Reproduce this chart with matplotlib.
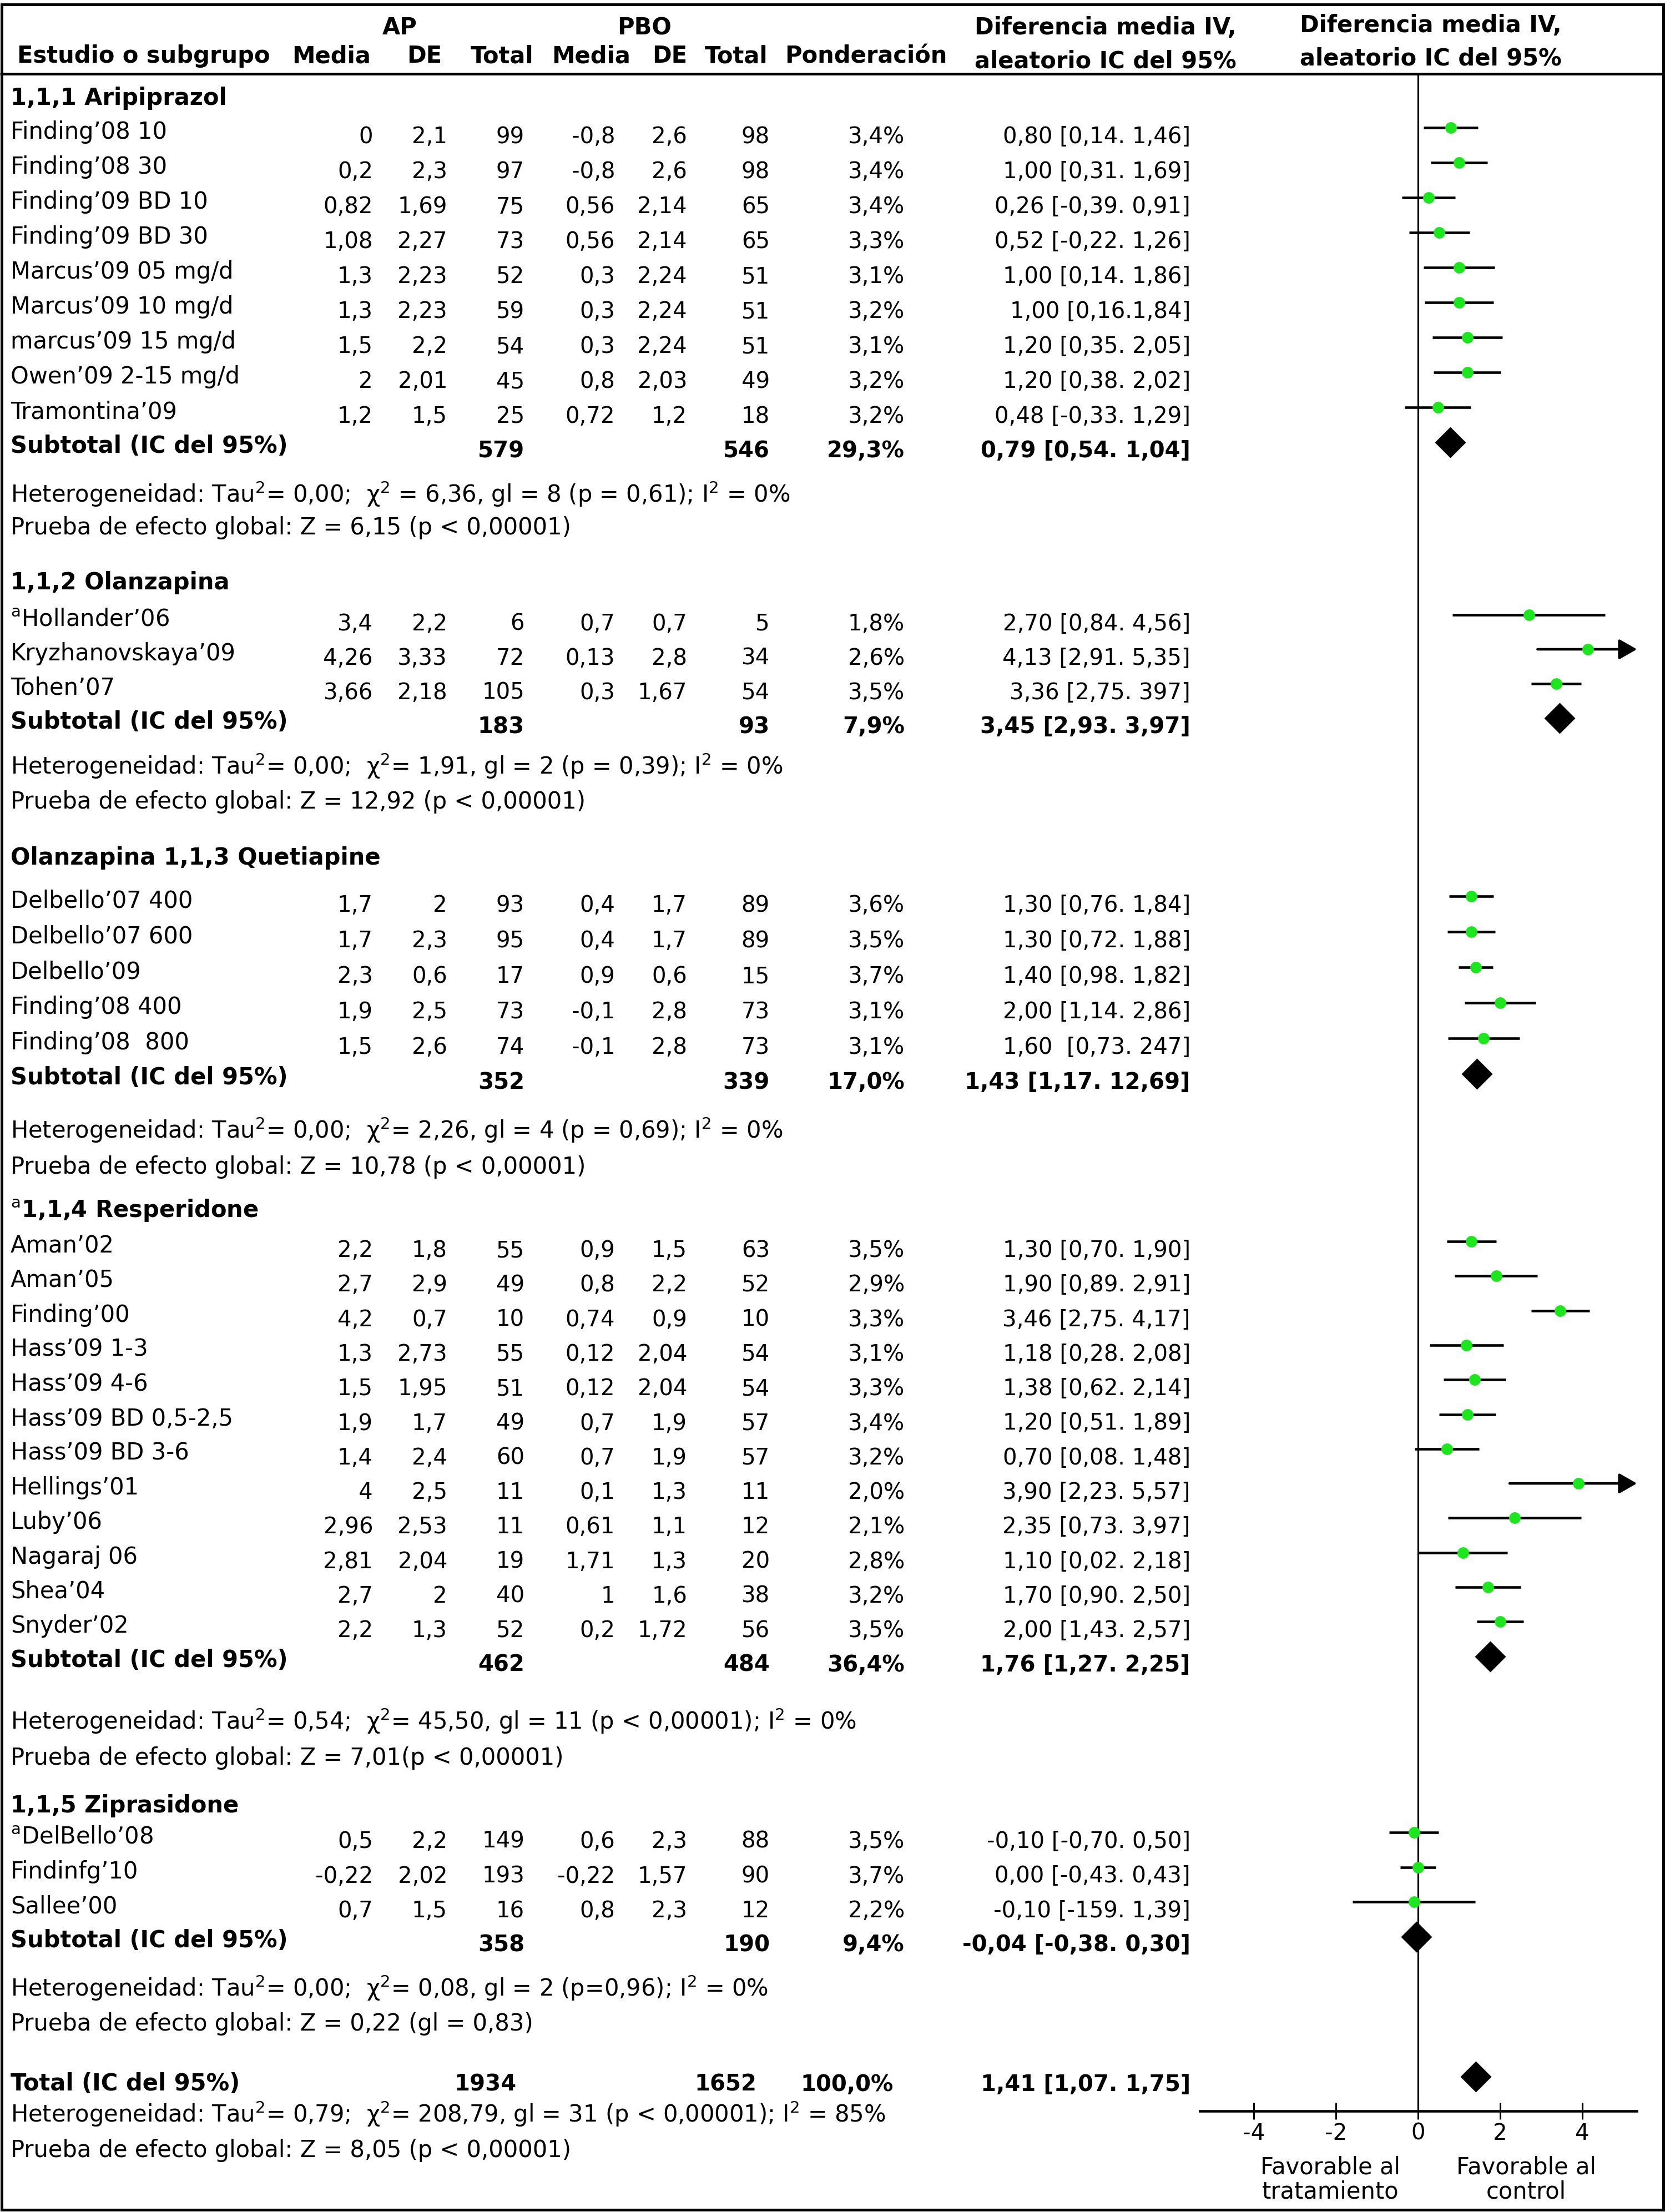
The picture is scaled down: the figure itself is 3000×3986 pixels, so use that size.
import matplotlib
matplotlib.use('Agg')
import matplotlib.pyplot as plt
from matplotlib.patches import Rectangle

plt.rcParams['font.family'] = ['DejaVu Sans']
plt.rcParams['axes.unicode_minus'] = False
plt.rcParams['mathtext.fontset'] = 'dejavusans'

# ---------------- data ----------------
section_title = ['1,1,1 Aripiprazol', '1,1,2 Olanzapina', 'Olanzapina 1,1,3 Quetiapine',
                 '$^{\\mathrm{a}}$1,1,4 Resperidone', '1,1,5 Ziprasidone']
section_size = [9, 3, 5, 12, 3]

study = ['Finding’08 10', 'Finding’08 30', 'Finding’09 BD 10', 'Finding’09 BD 30',
         'Marcus’09 05 mg/d', 'Marcus’09 10 mg/d', 'marcus’09 15 mg/d', 'Owen’09 2-15 mg/d',
         'Tramontina’09',
         '$^{\\mathrm{a}}$Hollander’06', 'Kryzhanovskaya’09', 'Tohen’07',
         'Delbello’07 400', 'Delbello’07 600', 'Delbello’09', 'Finding’08 400', 'Finding’08  800',
         'Aman’02', 'Aman’05', 'Finding’00', 'Hass’09 1-3', 'Hass’09 4-6', 'Hass’09 BD 0,5-2,5',
         'Hass’09 BD 3-6', 'Hellings’01', 'Luby’06', 'Nagaraj 06', 'Shea’04', 'Snyder’02',
         '$^{\\mathrm{a}}$DelBello’08', 'Findinfg’10', 'Sallee’00']
ap_mean = ['0', '0,2', '0,82', '1,08', '1,3', '1,3', '1,5', '2', '1,2',
           '3,4', '4,26', '3,66',
           '1,7', '1,7', '2,3', '1,9', '1,5',
           '2,2', '2,7', '4,2', '1,3', '1,5', '1,9', '1,4', '4', '2,96', '2,81', '2,7', '2,2',
           '0,5', '-0,22', '0,7']
ap_sd = ['2,1', '2,3', '1,69', '2,27', '2,23', '2,23', '2,2', '2,01', '1,5',
         '2,2', '3,33', '2,18',
         '2', '2,3', '0,6', '2,5', '2,6',
         '1,8', '2,9', '0,7', '2,73', '1,95', '1,7', '2,4', '2,5', '2,53', '2,04', '2', '1,3',
         '2,2', '2,02', '1,5']
ap_n = ['99', '97', '75', '73', '52', '59', '54', '45', '25',
        '6', '72', '105',
        '93', '95', '17', '73', '74',
        '55', '49', '10', '55', '51', '49', '60', '11', '11', '19', '40', '52',
        '149', '193', '16']
pbo_mean = ['-0,8', '-0,8', '0,56', '0,56', '0,3', '0,3', '0,3', '0,8', '0,72',
            '0,7', '0,13', '0,3',
            '0,4', '0,4', '0,9', '-0,1', '-0,1',
            '0,9', '0,8', '0,74', '0,12', '0,12', '0,7', '0,7', '0,1', '0,61', '1,71', '1', '0,2',
            '0,6', '-0,22', '0,8']
pbo_sd = ['2,6', '2,6', '2,14', '2,14', '2,24', '2,24', '2,24', '2,03', '1,2',
          '0,7', '2,8', '1,67',
          '1,7', '1,7', '0,6', '2,8', '2,8',
          '1,5', '2,2', '0,9', '2,04', '2,04', '1,9', '1,9', '1,3', '1,1', '1,3', '1,6', '1,72',
          '2,3', '1,57', '2,3']
pbo_n = ['98', '98', '65', '65', '51', '51', '51', '49', '18',
         '5', '34', '54',
         '89', '89', '15', '73', '73',
         '63', '52', '10', '54', '54', '57', '57', '11', '12', '20', '38', '56',
         '88', '90', '12']
weight = ['3,4%', '3,4%', '3,4%', '3,3%', '3,1%', '3,2%', '3,1%', '3,2%', '3,2%',
          '1,8%', '2,6%', '3,5%',
          '3,6%', '3,5%', '3,7%', '3,1%', '3,1%',
          '3,5%', '2,9%', '3,3%', '3,1%', '3,3%', '3,4%', '3,2%', '2,0%', '2,1%', '2,8%', '3,2%', '3,5%',
          '3,5%', '3,7%', '2,2%']
ci_text = ['0,80 [0,14. 1,46]', '1,00 [0,31. 1,69]', '0,26 [-0,39. 0,91]', '0,52 [-0,22. 1,26]',
           '1,00 [0,14. 1,86]', '1,00 [0,16.1,84]', '1,20 [0,35. 2,05]', '1,20 [0,38. 2,02]',
           '0,48 [-0,33. 1,29]',
           '2,70 [0,84. 4,56]', '4,13 [2,91. 5,35]', '3,36 [2,75. 397]',
           '1,30 [0,76. 1,84]', '1,30 [0,72. 1,88]', '1,40 [0,98. 1,82]', '2,00 [1,14. 2,86]',
           '1,60  [0,73. 247]',
           '1,30 [0,70. 1,90]', '1,90 [0,89. 2,91]', '3,46 [2,75. 4,17]', '1,18 [0,28. 2,08]',
           '1,38 [0,62. 2,14]', '1,20 [0,51. 1,89]', '0,70 [0,08. 1,48]', '3,90 [2,23. 5,57]',
           '2,35 [0,73. 3,97]', '1,10 [0,02. 2,18]', '1,70 [0,90. 2,50]', '2,00 [1,43. 2,57]',
           '-0,10 [-0,70. 0,50]', '0,00 [-0,43. 0,43]', '-0,10 [-159. 1,39]']
md = [0.80, 1.00, 0.26, 0.52, 1.00, 1.00, 1.20, 1.20, 0.48,
      2.70, 4.13, 3.36,
      1.30, 1.30, 1.40, 2.00, 1.60,
      1.30, 1.90, 3.46, 1.18, 1.38, 1.20, 0.70, 3.90, 2.35, 1.10, 1.70, 2.00,
      -0.10, 0.00, -0.10]
ci_lo = [0.14, 0.31, -0.39, -0.22, 0.14, 0.16, 0.35, 0.38, -0.33,
         0.84, 2.91, 2.75,
         0.76, 0.72, 0.98, 1.14, 0.73,
         0.70, 0.89, 2.75, 0.28, 0.62, 0.51, -0.08, 2.23, 0.73, 0.02, 0.90, 1.43,
         -0.70, -0.43, -1.59]
ci_hi = [1.46, 1.69, 0.91, 1.26, 1.86, 1.84, 2.05, 2.02, 1.29,
         4.56, 5.35, 3.97,
         1.84, 1.88, 1.82, 2.86, 2.47,
         1.90, 2.91, 4.17, 2.08, 2.14, 1.89, 1.48, 5.57, 3.97, 2.18, 2.50, 2.57,
         0.50, 0.43, 1.39]

sub_ap_n = ['579', '183', '352', '462', '358']
sub_pbo_n = ['546', '93', '339', '484', '190']
sub_weight = ['29,3%', '7,9%', '17,0%', '36,4%', '9,4%']
sub_md = [0.79, 3.45, 1.43, 1.76, -0.04]
sub_ci_text = ['0,79 [0,54. 1,04]', '3,45 [2,93. 3,97]', '1,43 [1,17. 12,69]',
               '1,76 [1,27. 2,25]', '-0,04 [-0,38. 0,30]']
het_text = ['Heterogeneidad: Tau$^2$= 0,00;  χ$^2$ = 6,36, gl = 8 (p = 0,61); I$^2$ = 0%',
            'Heterogeneidad: Tau$^2$= 0,00;  χ$^2$= 1,91, gl = 2 (p = 0,39); I$^2$ = 0%',
            'Heterogeneidad: Tau$^2$= 0,00;  χ$^2$= 2,26, gl = 4 (p = 0,69); I$^2$ = 0%',
            'Heterogeneidad: Tau$^2$= 0,54;  χ$^2$= 45,50, gl = 11 (p < 0,00001); I$^2$ = 0%',
            'Heterogeneidad: Tau$^2$= 0,00;  χ$^2$= 0,08, gl = 2 (p=0,96); I$^2$ = 0%']
test_text = ['Prueba de efecto global: Z = 6,15 (p < 0,00001)',
             'Prueba de efecto global: Z = 12,92 (p < 0,00001)',
             'Prueba de efecto global: Z = 10,78 (p < 0,00001)',
             'Prueba de efecto global: Z = 7,01(p < 0,00001)',
             'Prueba de efecto global: Z = 0,22 (gl = 0,83)']

total_ap_n = '1934'
total_pbo_n = '1652'
total_weight = '100,0%'
total_md = 1.41
total_ci_text = '1,41 [1,07. 1,75]'
total_het = 'Heterogeneidad: Tau$^2$= 0,79;  χ$^2$= 208,79, gl = 31 (p < 0,00001); I$^2$ = 85%'
total_test = 'Prueba de efecto global: Z = 8,05 (p < 0,00001)'

axis_ticks = [-4, -2, 0, 2, 4]

# ---------------- layout (pixels) ----------------
W, H = 3000, 3986
HEADER_Y = [174, 1047, 1543, 2178, 3251]
FIRST_Y = [230, 1108, 1615, 2237, 3302]
STEP_Y = [63, 62, 64, 62.3, 62.5]
HET_Y = [890, 1380, 2036, 3101, 3582]
TEST_Y = [948, 1442, 2100, 3165, 3644]
TOTAL_Y, TOTAL_HET_Y, TOTAL_TEST_Y = 3750, 3809, 3872
AXIS_Y = 3804
LABEL_X = 19
COL_X = [672, 806, 945, 1108, 1238, 1387]
WEIGHT_X, CI_X = 1630, 2145
ZERO_PX, UNIT_PX = 2555, 74
PLOT_L, PLOT_R = 2162, 2975
ARROW_TIP = 5.33
FS = 30
FS_NUM = 29
GREEN = '#1ee61e'

fig = plt.figure(figsize=(W / 100, H / 100), dpi=100)
ax = fig.add_axes([0, 0, 1, 1])
ax.set_xlim(0, W)
ax.set_ylim(H, 0)
ax.axis('off')


def put(x, y, s, ha='left', bold=False, size=FS):
    ax.text(x, y, s, ha=ha, va='baseline', fontsize=size,
            fontweight='bold' if bold else 'normal')


# frame and header
ax.add_patch(Rectangle((3, 8), W - 6, H - 12, fill=False, lw=3.6, color='black'))
ax.hlines(133, 0, W, color='black', lw=3.4)
put(720, 62, 'AP', ha='center', bold=True)
put(1161, 62, 'PBO', ha='center', bold=True)
put(LABEL_X + 12, 113, 'Estudio o subgrupo', bold=True)
for cx, lab in zip([597, 765, 905, 1065, 1207, 1327, 1560],
                   ['Media', 'DE', 'Total', 'Media', 'DE', 'Total', 'Ponderación']):
    put(cx, 113, lab, ha='center', bold=True)
put(1992, 62, 'Diferencia media IV,', ha='center', bold=True)
put(1992, 122, 'aleatorio IC del 95%', ha='center', bold=True)
put(2578, 58, 'Diferencia media IV,', ha='center', bold=True)
put(2578, 117, 'aleatorio IC del 95%', ha='center', bold=True)

# forest axes
axf = fig.add_axes([PLOT_L / W, 0, (PLOT_R - PLOT_L) / W, 1])
axf.set_xlim((PLOT_L - ZERO_PX) / UNIT_PX, (PLOT_R - ZERO_PX) / UNIT_PX)
axf.set_ylim(H, 0)
axf.patch.set_alpha(0)
for side in ['left', 'right', 'top']:
    axf.spines[side].set_visible(False)
axf.spines['bottom'].set_position(('data', AXIS_Y))
axf.spines['bottom'].set_linewidth(3.3)
axf.spines['bottom'].set_bounds((2162 - ZERO_PX) / UNIT_PX, (2949 - ZERO_PX) / UNIT_PX)
axf.set_yticks([])
axf.set_xticks(axis_ticks)
axf.set_xticklabels([str(t) for t in axis_ticks])
axf.tick_params(axis='x', direction='inout', length=21.6, width=2.2, labelsize=29, pad=4)
axf.vlines(0, 133, AXIS_Y, color='black', lw=2.3)

# rows
i = 0
for s in range(len(section_title)):
    put(LABEL_X, HEADER_Y[s] + 15, section_title[s], bold=True)
    for k in range(section_size[s]):
        y = FIRST_Y[s] + k * STEP_Y[s]
        put(LABEL_X, y + 20, study[i])
        for cx, col in zip(COL_X, [ap_mean, ap_sd, ap_n, pbo_mean, pbo_sd, pbo_n]):
            put(cx, y + 28, col[i], ha='right', size=FS_NUM)
        put(WEIGHT_X, y + 28, weight[i], ha='right', size=FS_NUM)
        put(CI_X, y + 28, ci_text[i], ha='right', size=FS_NUM)
        if ci_hi[i] > ARROW_TIP:
            axf.annotate('', xy=(ARROW_TIP, y), xytext=(ci_lo[i], y),
                         arrowprops=dict(arrowstyle='-|>,head_length=0.65,head_width=0.37',
                                         mutation_scale=30, lw=3.3, color='black',
                                         shrinkA=0, shrinkB=0))
        else:
            axf.plot([ci_lo[i], ci_hi[i]], [y, y], color='black', lw=3.3, solid_capstyle='butt')
        axf.plot(md[i], y, 'o', color=GREEN, ms=15, mec='none', zorder=5)
        i += 1
    ys = FIRST_Y[s] + section_size[s] * STEP_Y[s]
    put(LABEL_X, ys + 19, 'Subtotal (IC del 95%)', bold=True)
    put(COL_X[2], ys + 27, sub_ap_n[s], ha='right', bold=True, size=FS_NUM)
    put(COL_X[5], ys + 27, sub_pbo_n[s], ha='right', bold=True, size=FS_NUM)
    put(WEIGHT_X, ys + 27, sub_weight[s], ha='right', bold=True, size=FS_NUM)
    put(CI_X, ys + 27, sub_ci_text[s], ha='right', bold=True, size=FS_NUM)
    axf.plot(sub_md[s], ys, 'D', color='black', ms=29, mec='none')
    put(LABEL_X, HET_Y[s] + 15, het_text[s])
    put(LABEL_X, TEST_Y[s] + 15, test_text[s])

# overall
put(LABEL_X, TOTAL_Y + 17, 'Total (IC del 95%)', bold=True)
put(931, TOTAL_Y + 18, total_ap_n, ha='right', bold=True, size=FS_NUM)
put(1363, TOTAL_Y + 18, total_pbo_n, ha='right', bold=True, size=FS_NUM)
put(WEIGHT_X - 20, TOTAL_Y + 18, total_weight, ha='right', bold=True, size=FS_NUM)
put(CI_X, TOTAL_Y + 18, total_ci_text, ha='right', bold=True, size=FS_NUM)
axf.plot(total_md, TOTAL_Y - 8, 'D', color='black', ms=29, mec='none')
put(LABEL_X, TOTAL_HET_Y + 15, total_het)
put(LABEL_X, TOTAL_TEST_Y + 15, total_test)

put(2397, 3917, 'Favorable al', ha='center')
put(2397, 3962, 'tratamiento', ha='center')
put(2750, 3917, 'Favorable al', ha='center')
put(2750, 3962, 'control', ha='center')

fig.savefig('out.png', dpi=100)
